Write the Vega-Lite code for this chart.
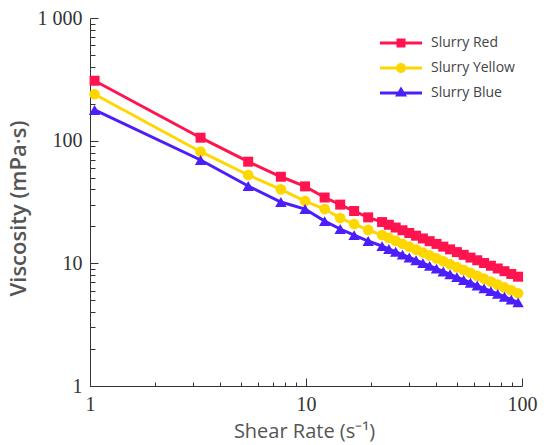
{
  "$schema": "https://vega.github.io/schema/vega-lite/v6.json",
  "autosize": "none",
  "padding": {"left": 90, "top": 18, "right": 28, "bottom": 59},
  "width": 432,
  "height": 368,
  "background": "white",
  "config": {"view": {"stroke": null}},
  "data": {
    "values": [
      {"x": 1.05, "v": 308, "s": "Slurry Red"},
      {"x": 3.25, "v": 105.7, "s": "Slurry Red"},
      {"x": 5.4, "v": 67.4, "s": "Slurry Red"},
      {"x": 7.65, "v": 50.8, "s": "Slurry Red"},
      {"x": 9.9, "v": 42.4, "s": "Slurry Red"},
      {"x": 12.2, "v": 34.4, "s": "Slurry Red"},
      {"x": 14.4, "v": 30.1, "s": "Slurry Red"},
      {"x": 16.7, "v": 26.7, "s": "Slurry Red"},
      {"x": 19.4, "v": 23.7, "s": "Slurry Red"},
      {"x": 22.5, "v": 21.7, "s": "Slurry Red"},
      {"x": 24.19, "v": 20.62, "s": "Slurry Red"},
      {"x": 26.01, "v": 19.58, "s": "Slurry Red"},
      {"x": 27.97, "v": 18.61, "s": "Slurry Red"},
      {"x": 30.07, "v": 17.68, "s": "Slurry Red"},
      {"x": 32.33, "v": 16.8, "s": "Slurry Red"},
      {"x": 34.76, "v": 15.95, "s": "Slurry Red"},
      {"x": 37.38, "v": 15.16, "s": "Slurry Red"},
      {"x": 40.19, "v": 14.4, "s": "Slurry Red"},
      {"x": 43.21, "v": 13.68, "s": "Slurry Red"},
      {"x": 46.46, "v": 13.0, "s": "Slurry Red"},
      {"x": 49.95, "v": 12.35, "s": "Slurry Red"},
      {"x": 53.71, "v": 11.73, "s": "Slurry Red"},
      {"x": 57.75, "v": 11.14, "s": "Slurry Red"},
      {"x": 62.09, "v": 10.59, "s": "Slurry Red"},
      {"x": 66.76, "v": 10.06, "s": "Slurry Red"},
      {"x": 71.78, "v": 9.56, "s": "Slurry Red"},
      {"x": 77.18, "v": 9.08, "s": "Slurry Red"},
      {"x": 82.98, "v": 8.63, "s": "Slurry Red"},
      {"x": 89.22, "v": 8.19, "s": "Slurry Red"},
      {"x": 95.93, "v": 7.78, "s": "Slurry Red"},
      {"x": 1.05, "v": 239, "s": "Slurry Yellow"},
      {"x": 3.25, "v": 81.3, "s": "Slurry Yellow"},
      {"x": 5.4, "v": 52.5, "s": "Slurry Yellow"},
      {"x": 7.65, "v": 40.1, "s": "Slurry Yellow"},
      {"x": 9.9, "v": 32.2, "s": "Slurry Yellow"},
      {"x": 12.2, "v": 27.7, "s": "Slurry Yellow"},
      {"x": 14.4, "v": 23.4, "s": "Slurry Yellow"},
      {"x": 16.7, "v": 20.9, "s": "Slurry Yellow"},
      {"x": 19.4, "v": 18.7, "s": "Slurry Yellow"},
      {"x": 22.5, "v": 17.0, "s": "Slurry Yellow"},
      {"x": 24.19, "v": 16.1, "s": "Slurry Yellow"},
      {"x": 26.01, "v": 15.24, "s": "Slurry Yellow"},
      {"x": 27.97, "v": 14.43, "s": "Slurry Yellow"},
      {"x": 30.07, "v": 13.66, "s": "Slurry Yellow"},
      {"x": 32.33, "v": 12.93, "s": "Slurry Yellow"},
      {"x": 34.76, "v": 12.24, "s": "Slurry Yellow"},
      {"x": 37.38, "v": 11.6, "s": "Slurry Yellow"},
      {"x": 40.19, "v": 10.98, "s": "Slurry Yellow"},
      {"x": 43.21, "v": 10.39, "s": "Slurry Yellow"},
      {"x": 46.46, "v": 9.84, "s": "Slurry Yellow"},
      {"x": 49.95, "v": 9.32, "s": "Slurry Yellow"},
      {"x": 53.71, "v": 8.82, "s": "Slurry Yellow"},
      {"x": 57.75, "v": 8.35, "s": "Slurry Yellow"},
      {"x": 62.09, "v": 7.91, "s": "Slurry Yellow"},
      {"x": 66.76, "v": 7.49, "s": "Slurry Yellow"},
      {"x": 71.78, "v": 7.09, "s": "Slurry Yellow"},
      {"x": 77.18, "v": 6.71, "s": "Slurry Yellow"},
      {"x": 82.98, "v": 6.36, "s": "Slurry Yellow"},
      {"x": 89.22, "v": 6.02, "s": "Slurry Yellow"},
      {"x": 95.93, "v": 5.7, "s": "Slurry Yellow"},
      {"x": 1.05, "v": 178, "s": "Slurry Blue"},
      {"x": 3.25, "v": 69.6, "s": "Slurry Blue"},
      {"x": 5.4, "v": 42.7, "s": "Slurry Blue"},
      {"x": 7.65, "v": 31.6, "s": "Slurry Blue"},
      {"x": 9.9, "v": 27.7, "s": "Slurry Blue"},
      {"x": 12.2, "v": 22.1, "s": "Slurry Blue"},
      {"x": 14.4, "v": 19.05, "s": "Slurry Blue"},
      {"x": 16.7, "v": 17.0, "s": "Slurry Blue"},
      {"x": 19.4, "v": 15.2, "s": "Slurry Blue"},
      {"x": 22.5, "v": 13.8, "s": "Slurry Blue"},
      {"x": 24.19, "v": 13.09, "s": "Slurry Blue"},
      {"x": 26.01, "v": 12.42, "s": "Slurry Blue"},
      {"x": 27.97, "v": 11.78, "s": "Slurry Blue"},
      {"x": 30.07, "v": 11.17, "s": "Slurry Blue"},
      {"x": 32.33, "v": 10.6, "s": "Slurry Blue"},
      {"x": 34.76, "v": 10.05, "s": "Slurry Blue"},
      {"x": 37.38, "v": 9.54, "s": "Slurry Blue"},
      {"x": 40.19, "v": 9.05, "s": "Slurry Blue"},
      {"x": 43.21, "v": 8.58, "s": "Slurry Blue"},
      {"x": 46.46, "v": 8.14, "s": "Slurry Blue"},
      {"x": 49.95, "v": 7.72, "s": "Slurry Blue"},
      {"x": 53.71, "v": 7.32, "s": "Slurry Blue"},
      {"x": 57.75, "v": 6.95, "s": "Slurry Blue"},
      {"x": 62.09, "v": 6.59, "s": "Slurry Blue"},
      {"x": 66.76, "v": 6.25, "s": "Slurry Blue"},
      {"x": 71.78, "v": 5.93, "s": "Slurry Blue"},
      {"x": 77.18, "v": 5.63, "s": "Slurry Blue"},
      {"x": 82.98, "v": 5.34, "s": "Slurry Blue"},
      {"x": 89.22, "v": 5.06, "s": "Slurry Blue"},
      {"x": 95.93, "v": 4.8, "s": "Slurry Blue"}
    ]
  },
  "encoding": {
    "x": {
      "field": "x",
      "type": "quantitative",
      "scale": {"type": "log", "domain": [1, 100], "nice": false},
      "axis": {
        "title": "Shear Rate (s⁻¹)",
        "grid": false,
        "values": [1, 2, 3, 4, 5, 6, 7, 8, 9, 10, 20, 30, 40, 50, 60, 70, 80, 90, 100],
        "labelExpr": "datum.value == 1 ? '1' : datum.value == 10 ? '10' : datum.value == 100 ? '100' : ''",
        "labelFlush": false,
        "labelOverlap": false,
        "labelFont": "Liberation Serif",
        "labelFontSize": 20,
        "labelColor": "#333333",
        "labelPadding": 16,
        "tickSize": {"condition": {"test": "datum.value == 1 || datum.value == 10 || datum.value == 100", "value": -8}, "value": -4},
        "tickColor": "#333333",
        "domainColor": "#333333",
        "titleFont": "Open Sans",
        "titleFontSize": 20,
        "titleFontWeight": "normal",
        "titleColor": "#555555",
        "titleX": 214,
        "titleY": 45,
        "titleBaseline": "middle"
      }
    },
    "y": {
      "field": "v",
      "type": "quantitative",
      "scale": {"type": "log", "domain": [1, 1000], "nice": false},
      "axis": {
        "title": "Viscosity (mPa·s)",
        "grid": false,
        "values": [1, 2, 3, 4, 5, 6, 7, 8, 9, 10, 20, 30, 40, 50, 60, 70, 80, 90, 100, 200, 300, 400, 500, 600, 700, 800, 900, 1000],
        "labelExpr": "datum.value == 1 ? '1' : datum.value == 10 ? '10' : datum.value == 100 ? '100' : datum.value == 1000 ? '1 000' : ''",
        "labelOverlap": false,
        "labelFont": "Liberation Serif",
        "labelFontSize": 20,
        "labelColor": "#333333",
        "labelPadding": 16,
        "tickSize": {"condition": {"test": "datum.value == 1 || datum.value == 10 || datum.value == 100 || datum.value == 1000", "value": -8}, "value": -5},
        "tickColor": "#333333",
        "domainColor": "#333333",
        "titleFont": "Open Sans",
        "titleFontSize": 22,
        "titleFontWeight": 600,
        "titleColor": "#555555",
        "titleX": -72,
        "titleY": 190,
        "titleBaseline": "middle"
      }
    },
    "color": {
      "field": "s",
      "type": "nominal",
      "scale": {
        "domain": ["Slurry Red", "Slurry Yellow", "Slurry Blue"],
        "range": ["#FF1450", "#FFD700", "#4B1EFA"]
      },
      "legend": {
        "title": null,
        "orient": "none",
        "legendX": 301,
        "legendY": 15,
        "padding": 0,
        "labelFont": "Open Sans",
        "labelFontSize": 14,
        "labelColor": "#444444",
        "labelOffset": 20,
        "rowPadding": 8,
        "symbolSize": 400,
        "symbolOpacity": 1,
        "symbolStrokeWidth": 0
      }
    }
  },
  "layer": [
    {
      "mark": {"type": "point", "filled": true, "opacity": 0},
      "encoding": {
        "shape": {
          "field": "s",
          "type": "nominal",
          "scale": {
            "domain": ["Slurry Red", "Slurry Yellow", "Slurry Blue"],
            "range": [
              "M-2.1,-0.15H2.1V0.15H-2.1Z M-0.45,-0.45H0.45V0.45H-0.45Z",
              "M-2.1,-0.15H2.1V0.15H-2.1Z M0.5,0A0.5,0.5,0,1,1,-0.5,0A0.5,0.5,0,1,1,0.5,0Z",
              "M-2.1,-0.15H2.1V0.15H-2.1Z M0,-0.65L0.6,0.35H-0.6Z"
            ]
          },
          "legend": {
            "title": null,
            "orient": "none",
            "legendX": 301,
            "legendY": 15,
            "padding": 0,
            "labelFont": "Open Sans",
            "labelFontSize": 14,
            "labelColor": "#444444",
            "labelOffset": 20,
            "rowPadding": 8,
            "symbolSize": 400,
            "symbolOpacity": 1,
            "symbolStrokeWidth": 0
          }
        }
      }
    },
    {
      "mark": {"type": "line", "strokeWidth": 3}
    },
    {
      "transform": [{"filter": "datum.s === 'Slurry Red'"}],
      "mark": {"type": "point", "filled": true, "opacity": 1, "shape": "square", "size": 100}
    },
    {
      "transform": [{"filter": "datum.s === 'Slurry Yellow'"}],
      "mark": {"type": "point", "filled": true, "opacity": 1, "shape": "circle", "size": 115}
    },
    {
      "transform": [{"filter": "datum.s === 'Slurry Blue'"}],
      "mark": {"type": "point", "filled": true, "opacity": 1, "shape": "triangle-up", "size": 130}
    }
  ]
}
